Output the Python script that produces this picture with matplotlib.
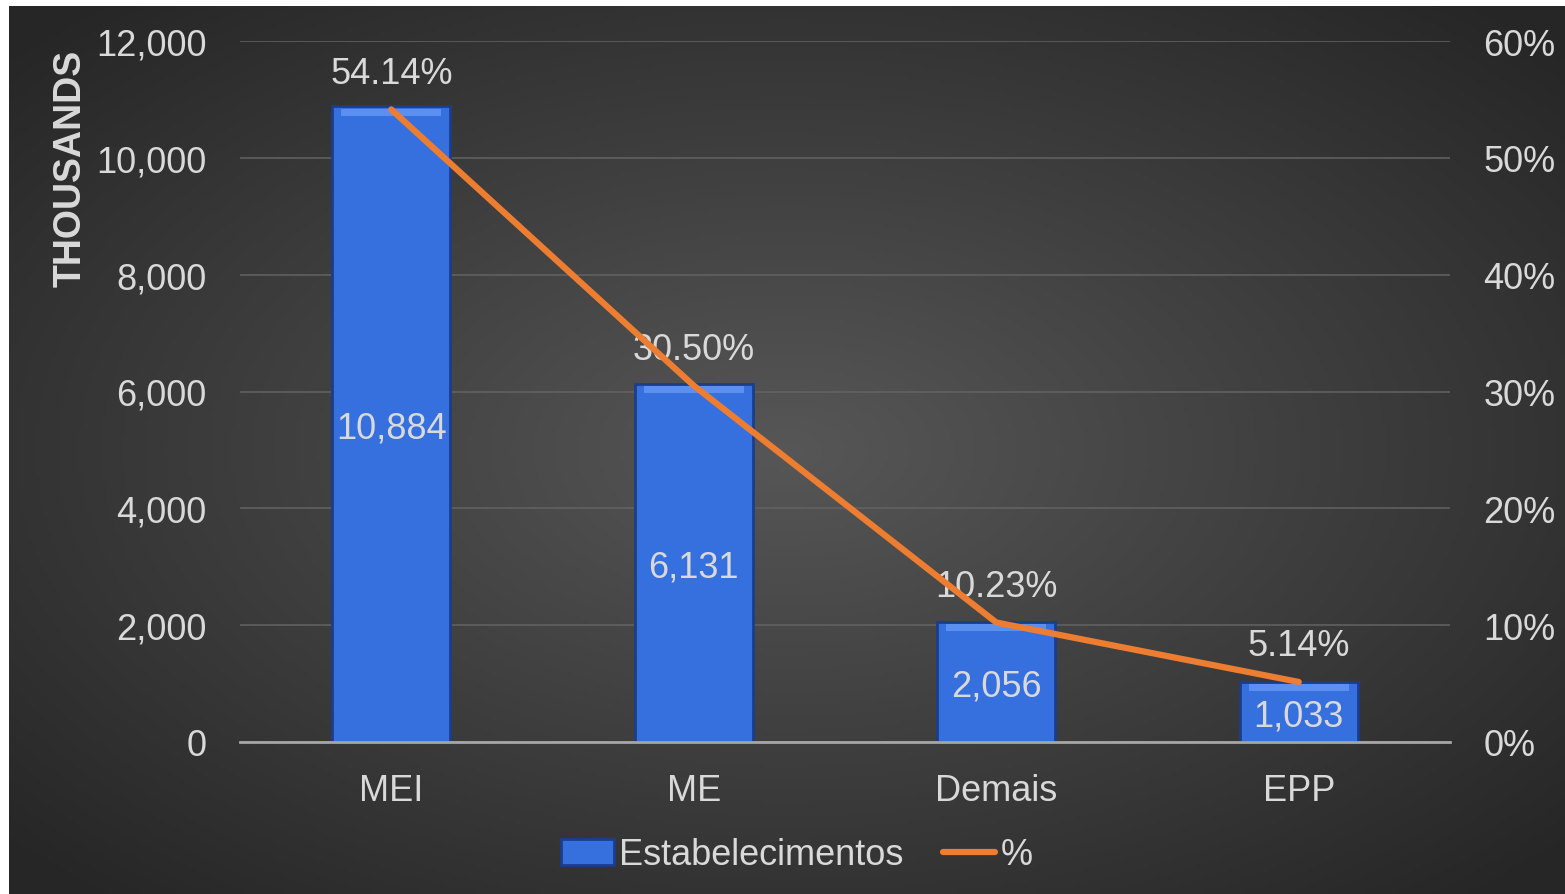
import numpy as np
import matplotlib.pyplot as plt

# dados
categorias = ["MEI", "ME", "Demais", "EPP"]
estabelecimentos = [10884, 6131, 2056, 1033]   # em milhares
percentual = [54.14, 30.50, 10.23, 5.14]
bar_labels = ["10,884", "6,131", "2,056", "1,033"]
pct_labels = ["54.14%", "30.50%", "10.23%", "5.14%"]
y_ticks = [0, 2000, 4000, 6000, 8000, 10000, 12000]
y2_ticks = [0, 10, 20, 30, 40, 50, 60]

plt.rcParams['font.family'] = ['Liberation Sans', 'DejaVu Sans']
txt = "#d9d9d9"
fs = 26

fig = plt.figure(figsize=(15.65, 8.95), dpi=100)
fig.patch.set_facecolor("white")

# fundo com gradiente radial
bg = fig.add_axes([9/1565, 0, 1 - 9/1565, 1 - 7/895], zorder=-5)
xx, yy = np.meshgrid(np.linspace(-1, 1, 400), np.linspace(-1, 1, 240))
d = np.clip(np.sqrt(xx**2 + yy**2) / 1.35, 0, 1)
c = 0.34 - 0.19 * d
bg.imshow(np.dstack([c, c, c]), aspect="auto", extent=[0, 1, 0, 1])
bg.axis("off")

ax = fig.add_axes([240/1565, 1 - 743/895, 1210/1565, 701/895])
ax.patch.set_alpha(0)
x = np.arange(len(categorias))

bars = ax.bar(x, estabelecimentos, width=0.39, color="#3670de",
              edgecolor="#1c3d8c", linewidth=2, zorder=3)
# brilho no topo das barras
ax.bar(x, [120] * len(x), bottom=[v - 160 for v in estabelecimentos],
       width=0.33, color="#5b8ff0", linewidth=0, zorder=3.5)
for i, lbl in enumerate(bar_labels):
    ax.annotate(lbl, (x[i], estabelecimentos[i] / 2), xytext=(0, -3),
                textcoords="offset points", ha="center", va="center",
                color=txt, fontsize=fs, zorder=5)

ax.set_xlim(-0.5, 3.5)
ax.set_ylim(0, 12000)
ax.set_yticks(y_ticks)
ax.set_yticklabels([f"{v:,}" for v in y_ticks])
ax.set_xticks(x)
ax.set_xticklabels(categorias)
ax.tick_params(axis="y", length=0, pad=24, labelsize=fs, labelcolor=txt)
ax.tick_params(axis="x", length=0, pad=22, labelsize=fs, labelcolor=txt)
ax.grid(axis="y", color="#636363", linewidth=1.1, zorder=0)
for s in ["top", "right", "left"]:
    ax.spines[s].set_visible(False)
ax.spines["bottom"].set_color("#a6a6a6")
ax.spines["bottom"].set_linewidth(2)
ax.spines["bottom"].set_zorder(4)

ax2 = ax.twinx()
ax2.set_ylim(0, 60)
ax2.set_yticks(y2_ticks)
ax2.set_yticklabels([f"{v}%" for v in y2_ticks])
ax2.tick_params(axis="y", length=0, pad=24, labelsize=fs, labelcolor=txt)
for s in ax2.spines.values():
    s.set_visible(False)
line, = ax2.plot(x, percentual, color="#ed7d31", linewidth=4.5,
                 solid_capstyle="round", zorder=6)
for i, lbl in enumerate(pct_labels):
    ax2.annotate(lbl, (x[i], percentual[i]), xytext=(0, 26), textcoords="offset points",
                 ha="center", va="center", color=txt, fontsize=fs, zorder=5)

ax.text(-0.14, 0.82, "THOUSANDS", transform=ax.transAxes, rotation=90,
        ha="center", va="center", color=txt, fontsize=27, fontweight="bold")

leg = fig.legend([bars, line], ["Estabelecimentos", "%"], loc="center",
                 bbox_to_anchor=(797/1565, 1 - 856/895), ncol=2, frameon=False,
                 fontsize=fs, labelcolor=txt, handlelength=1.45, handletextpad=0.15,
                 columnspacing=1.1)

fig.savefig("out.png", dpi=100)
